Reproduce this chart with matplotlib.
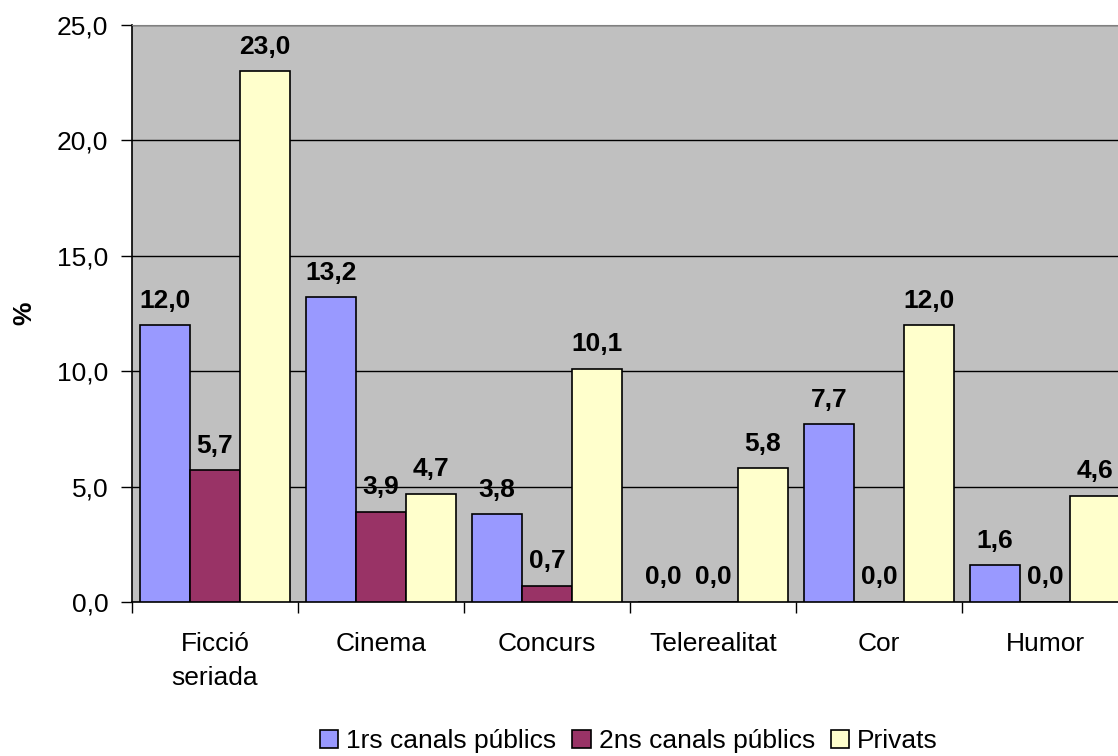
#!/usr/bin/env python3
"""Bar chart: share of programme genres by channel group."""

import matplotlib
matplotlib.use("Agg")
import matplotlib.pyplot as plt
import numpy as np

categories = ["Ficció\nseriada", "Cinema", "Concurs", "Telerealitat", "Cor", "Humor"]
series_names = ["1rs canals públics", "2ns canals públics", "Privats"]
primers = [12.0, 13.2, 3.8, 0.0, 7.7, 1.6]
segons = [5.7, 3.9, 0.7, 0.0, 0.0, 0.0]
privats = [23.0, 4.7, 10.1, 5.8, 12.0, 4.6]
colors = ["#9999FF", "#993366", "#FFFFCC"]

plt.rcParams["font.family"] = ["Liberation Sans", "DejaVu Sans"]
FS = 19


def fmt(v):
    return f"{v:.1f}".replace(".", ",")


def main() -> None:
    fig = plt.figure(figsize=(11.18, 7.56), dpi=100)
    # plot area runs past the right edge, as in the source image
    ax = fig.add_axes([132 / 1118, 1 - 602 / 756, 996 / 1118, 577 / 756])
    ax.set_facecolor("#C0C0C0")

    x = np.arange(len(categories))
    w = 0.30
    handles = []
    for i, (vals, c) in enumerate(zip([primers, segons, privats], colors)):
        pos = x + (i - 1) * w
        b = ax.bar(pos, vals, width=w, color=c, edgecolor="black", linewidth=1.2, zorder=3)
        handles.append(b)
        for px, v in zip(pos, vals):
            ax.annotate(fmt(v), (px, v), xytext=(0, 9), textcoords="offset points",
                        ha="center", va="bottom", fontsize=FS, fontweight="bold", zorder=4)

    ax.set_xlim(-0.5, len(categories) - 0.5)
    ax.set_ylim(0, 25)
    ax.set_yticks(np.arange(0, 26, 5))
    ax.set_yticklabels([fmt(v) for v in np.arange(0, 26, 5)], fontsize=FS)
    ax.yaxis.grid(True, color="black", linewidth=1, zorder=1)
    ax.set_axisbelow(True)

    ax.set_xticks(np.arange(len(categories) + 1) - 0.5)
    ax.set_xticklabels([])
    ax.tick_params(axis="x", length=8, width=1, direction="out")
    ax.tick_params(axis="y", length=8, width=1, direction="out", pad=9)
    for xc, name in zip(x, categories):
        ax.text(xc, -1.3, name, ha="center", va="top", fontsize=FS, linespacing=1.55)

    for side in ("top", "right"):
        ax.spines[side].set_color("#808080")
    for side in ("left", "bottom"):
        ax.spines[side].set_color("black")
        ax.spines[side].set_linewidth(1.2)

    ax.set_ylabel("%", fontsize=FS, fontweight="bold", labelpad=15)

    fig.legend(handles, series_names, loc="center", bbox_to_anchor=(629 / 1118, 1 - 741 / 756),
               ncol=3, frameon=False, fontsize=FS, handlelength=0.7, handleheight=0.7,
               handletextpad=0.3, columnspacing=0.6, borderpad=0)

    fig.savefig("out.png", dpi=100)
    plt.close(fig)


if __name__ == "__main__":
    main()
